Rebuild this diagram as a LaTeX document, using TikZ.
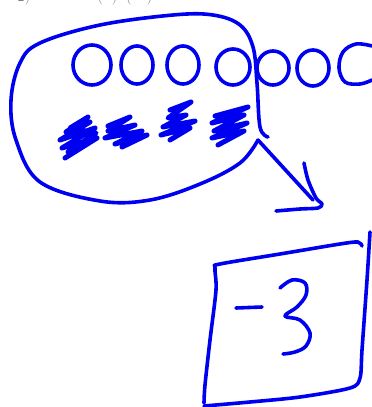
\documentclass[tikz,border=0pt]{standalone}
\begin{document}
\begin{tikzpicture}[x=1pt,y=-1pt,
  ink/.style={draw=inkblue,line width=3.6pt,line cap=round,line join=round},
  scrib/.style={draw=inkblue,line width=5pt,line cap=round,line join=round}]
\definecolor{inkblue}{RGB}{0,0,240}
\useasboundingbox (0,0) rectangle (372,407);
% clipped header text
\begin{scope}
\clip (0,0) rectangle (372,5);
\node[anchor=base,text=gray,font=\Large] (hdrA) at (24,1) {2)};
\node[anchor=base west,text=gray,font=\Large] (hdrB) at (94,1) {(\,$\cdot$\,)\,$\cdot$\,(\,$\cdot$\,$\cdot$\,)};
\end{scope}
% bubble
\draw[ink] plot[smooth,tension=0.6] coordinates {(268,137) (260,127) (257,83) (253,47) (240,25) (213,15) (173,15) (100,25) (40,43) (20,63) (11,100) (16,140) (40,182) (100,201) (150,200) (200,184) (240,163) (258,140)};
% tail / arrow
\draw[ink] (258,140) -- (313,200);
\draw[ink] plot[smooth,tension=0.5] coordinates {(304,163) (308,180) (316,198) (322,204) (318,208) (300,209) (276,211)};
% circles
\draw[ink] (92,65) ellipse [x radius=19pt,y radius=20pt];
\draw[ink] (137,65) ellipse [x radius=16pt,y radius=19pt];
\draw[ink] (183,65) ellipse [x radius=16pt,y radius=19pt];
\draw[ink] (233,67) ellipse [x radius=17pt,y radius=18pt];
\draw[ink] (273,68) ellipse [x radius=16pt,y radius=17pt];
\draw[ink] (313,68) ellipse [x radius=16pt,y radius=18pt];
\draw[ink] plot[smooth,tension=0.6] coordinates {(372,46) (356,44) (343,52) (339,68) (345,82) (360,84) (372,80)};
% scribbles
\draw[scrib] (65,158) -- (97,138) -- (62,148) -- (95,128) -- (60,140) -- (90,122) -- (66,132) -- (88,117) -- (70,128) -- (96,133) -- (68,152);
\draw[scrib] (108,126) -- (130,117) -- (108,131) -- (135,125) -- (105,138) -- (142,131) -- (115,144) -- (147,135) -- (122,147);
\draw[scrib] (170,110) -- (191,102) -- (168,118) -- (186,115) -- (163,127) -- (195,121) -- (161,135) -- (190,128) -- (170,140);
\draw[scrib] (215,116) -- (248,107) -- (212,123) -- (244,115) -- (214,131) -- (247,123) -- (212,138) -- (244,131) -- (218,145);
% box
\draw[ink] plot[smooth,tension=0.5] coordinates {(362,246) (358,242) (340,244) (280,254) (220,264) (215,268) (216,290) (210,340) (205,385) (204,403)};
\draw[ink] plot[smooth,tension=0.5] coordinates {(204,406) (250,402) (300,397) (350,388) (360,378) (362,350) (367,280) (370,232)};
% -3
\draw[ink] (236,308) -- (262,307);
\draw[ink] plot[smooth,tension=0.6] coordinates {(280,288) (292,280) (305,283) (306,295) (297,307) (285,316) (300,320) (310,333) (306,346) (295,352) (283,354)};
\end{tikzpicture}
\end{document}
